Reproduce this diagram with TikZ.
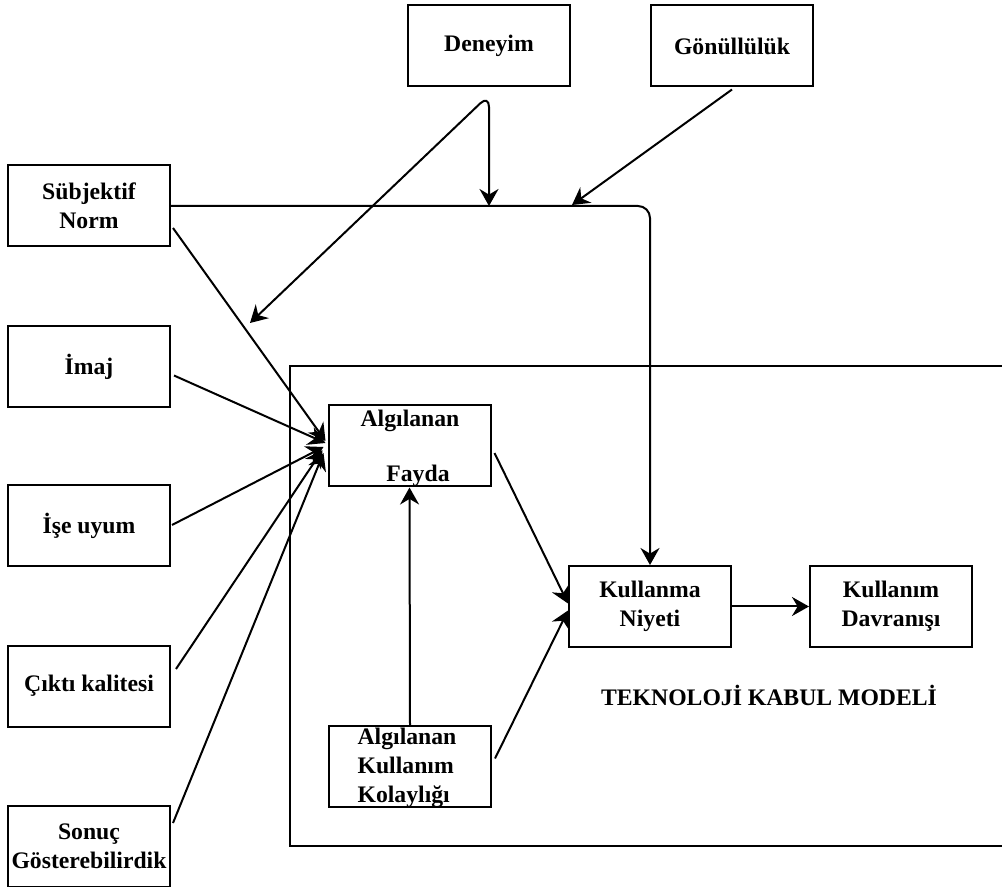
\documentclass[tikz,border=0pt]{standalone}
\usepackage{fontspec}
\setmainfont{Liberation Serif}
\usetikzlibrary{arrows.meta}
\newcommand\nodefont{\bfseries\fontsize{11.85}{14.5}\selectfont}
\begin{document}
\begin{tikzpicture}[x=0.5pt,y=-0.5pt,
  box/.style={draw,line width=1pt,minimum width=81pt,minimum height=40.5pt,
              inner sep=0pt,align=center,font=\nodefont},
  txt/.style={inner sep=0pt,font=\nodefont},
  conn/.style={line width=1pt},
  tip/.style={-{Stealth[length=8.5pt,width=9.5pt,inset=2.8pt]}},
  bothtips/.style={{Stealth[length=8.5pt,width=9.5pt,inset=2.8pt]}-{Stealth[length=8.5pt,width=9.5pt,inset=2.8pt]}}
]
\useasboundingbox (0,0) rectangle (1002,887);

% external factors (left column)
\node[box] (sn) at (89,206)   {Sübjektif\\Norm};
\node[box] (im) at (89,366.5) {İmaj};
\node[box] (iu) at (89,526)   {İşe uyum};
\node[box] (ck) at (89,686)   {Çıktı kalitesi};
\node[box] (sg) at (89,846)   {Sonuç\\Gösterebilirdik};

% moderators (top row)
\node[box] (dn) at (489,46) {Deneyim};
\node[box] (gn) at (732,46) {Gönüllülük};

% technology acceptance model frame (open on the right)
\draw[conn] (1002,366) -- (290,366) -- (290,846) -- (1002,846);

% model constructs
\node[box] (af) at (409.5,446) {};
\node[txt,align=center] (aftext) at (410,448) {Algılanan\\[13pt]\hspace*{8pt}Fayda};
\node[box] (akk) at (410,766.5) {};
\node[txt,align=left] (akktext) at (407,768) {Algılanan\\Kullanım\\Kolaylığı};
\node[box] (kn) at (650,606.5) {Kullanma\\Niyeti};
\node[box] (kd) at (891,606.5) {Kullanım\\Davranışı};
\node[txt] (tkm) at (769,695) {TEKNOLOJİ KABUL MODELİ};

% subjective norm to intention, running above the frame
\draw[conn,tip,rounded corners=6pt] (sn.east) -- (kn.north |- sn.east) -- (kn.north);

% experience moderating both the norm line and the norm-to-usefulness link
\coordinate (dtop) at (489,95);
\coordinate (dleft) at (250,323);
\draw[conn,bothtips,rounded corners=6pt] (dleft) -- (dtop) -- (dtop |- sn.east);

% voluntariness moderating the norm line
\coordinate (gend) at (572,205);
\draw[conn,tip] ([yshift=-1pt]gn.south) -- (gend);

% external factors to perceived usefulness
\draw[conn,tip] ([shift={(2,22)}]sn.east)  -- ([shift={(-2,-5)}]af.west);
\draw[conn,tip] ([shift={(3,9)}]im.east)   -- ([shift={(-2,-3)}]af.west);
\draw[conn,tip] ([shift={(1,-1)}]iu.east)  -- ([shift={(-4,1)}]af.west);
\draw[conn,tip] ([shift={(5,-17)}]ck.east) -- ([shift={(-5,4)}]af.west);
\draw[conn,tip] ([shift={(2,-23)}]sg.east) -- ([shift={(-4,7)}]af.west);

% core model links
\draw[conn,tip] (akk.north) -- (af.south);
\draw[conn,tip] ([shift={(3,7)}]af.east)   -- ([shift={(0,-3)}]kn.west);
\draw[conn,tip] ([shift={(3,-8)}]akk.east) -- ([shift={(0,4)}]kn.west);
\draw[conn,tip] (kn.east) -- (kd.west);
\end{tikzpicture}
\end{document}
